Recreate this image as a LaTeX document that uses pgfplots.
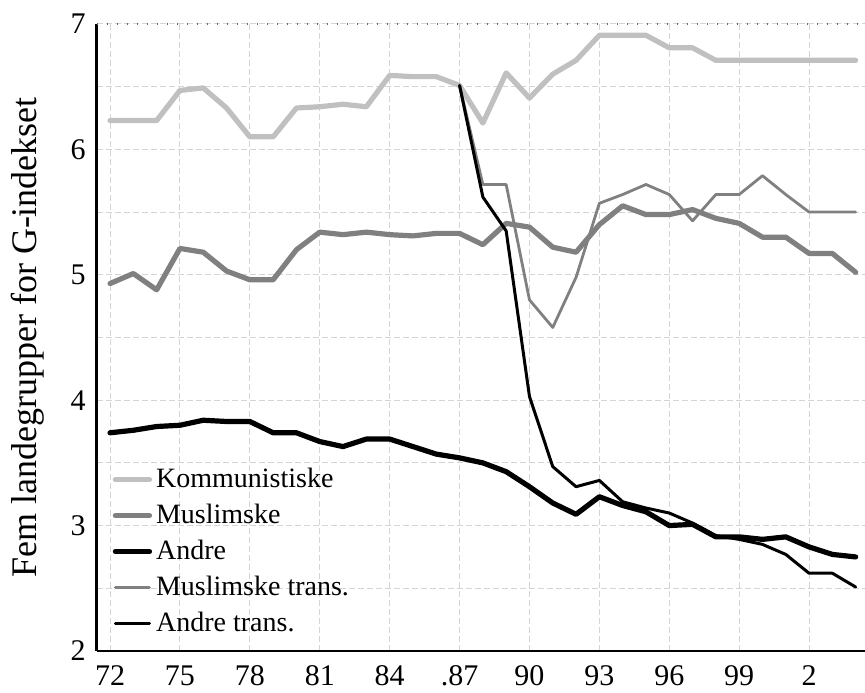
\documentclass[border=0pt]{standalone}
\usepackage{fontspec}
\setmainfont{Liberation Serif}
\usepackage{pgfplots}
\pgfplotsset{compat=1.18}
\definecolor{komm}{HTML}{C0C0C0}
\definecolor{musl}{HTML}{808080}
\definecolor{gridc}{HTML}{D4D4D4}
\begin{document}
\begin{tikzpicture}
\begin{axis}[
  name=ax,
  scale only axis,
  width=384pt, height=313.5pt,
  xmin=71.44, xmax=104.4,
  ymin=2, ymax=7,
  axis x line*=bottom, axis y line*=left,
  x axis line style={line width=1pt, -},
  y axis line style={line width=1.5pt, -},
  xtick={72,75,78,81,84,87,90,93,96,99,102},
  xticklabels={72,75,78,81,84,.87,90,93,96,99,2},
  ytick={2,3,4,5,6,7},
  minor y tick num=1,
  major tick length=0pt, minor tick length=0pt,
  xmajorgrids, ymajorgrids, yminorgrids,
  grid style={gridc, line width=0.5pt, dash pattern=on 3pt off 1.5pt},
  minor grid style={gridc, line width=0.5pt, dash pattern=on 3pt off 1.5pt},
  /pgf/number format/assume math mode=true,
  tick label style={font=\fontsize{15}{17}\selectfont},
  xticklabel style={inner sep=0pt, anchor=north, yshift=-7pt},
  yticklabel style={inner sep=0pt, anchor=east, xshift=-5.5pt},
  ylabel={Fem landegrupper for G-indekset},
  every axis y label/.style={at={(axis description cs:0,0.5)}, xshift=-30pt, anchor=base, rotate=90, inner sep=0pt, font=\fontsize{18}{20}\selectfont},
  legend style={draw=none, fill=none, at={(axis description cs:0.02,0.298)}, anchor=north west, font=\fontsize{14}{16}\selectfont, row sep=2.75pt, inner sep=0pt},
  legend cell align=left,
  every axis plot/.append style={line cap=round, line join=round},
]
\addplot[komm, line width=2.6pt] coordinates {
(72,6.23) (73,6.23) (74,6.23) (75,6.47) (76,6.49) (77,6.33) (78,6.10) (79,6.10)
(80,6.33) (81,6.34) (82,6.36) (83,6.34) (84,6.59) (85,6.58) (86,6.58) (87,6.51)
(88,6.21) (89,6.61) (90,6.41) (91,6.60) (92,6.71) (93,6.91) (94,6.91) (95,6.91)
(96,6.81) (97,6.81) (98,6.71) (99,6.71) (100,6.71) (101,6.71) (102,6.71) (103,6.71) (104,6.71)};
\addlegendentry{Kommunistiske}
\addplot[musl, line width=2.6pt] coordinates {
(72,4.93) (73,5.01) (74,4.88) (75,5.21) (76,5.18) (77,5.03) (78,4.96) (79,4.96)
(80,5.20) (81,5.34) (82,5.32) (83,5.34) (84,5.32) (85,5.31) (86,5.33) (87,5.33)
(88,5.24) (89,5.41) (90,5.38) (91,5.22) (92,5.18) (93,5.40) (94,5.55) (95,5.48)
(96,5.48) (97,5.52) (98,5.45) (99,5.41) (100,5.30) (101,5.30) (102,5.17) (103,5.17) (104,5.02)};
\addlegendentry{Muslimske}
\addplot[black, line width=2.6pt] coordinates {
(72,3.74) (73,3.76) (74,3.79) (75,3.80) (76,3.84) (77,3.83) (78,3.83) (79,3.74)
(80,3.74) (81,3.67) (82,3.63) (83,3.69) (84,3.69) (85,3.63) (86,3.57) (87,3.54)
(88,3.50) (89,3.43) (90,3.31) (91,3.18) (92,3.09) (93,3.23) (94,3.16) (95,3.11)
(96,3.00) (97,3.01) (98,2.91) (99,2.91) (100,2.89) (101,2.91) (102,2.83) (103,2.77) (104,2.75)};
\addlegendentry{Andre}
\addplot[musl, line width=1.4pt] coordinates {
(87,6.51) (88,5.72) (89,5.72) (90,4.80) (91,4.58) (92,4.98) (93,5.57) (94,5.64)
(95,5.72) (96,5.64) (97,5.43) (98,5.64) (99,5.64) (100,5.79) (101,5.64) (102,5.50) (103,5.50) (104,5.50)};
\addlegendentry{Muslimske trans.}
\addplot[black, line width=1.5pt] coordinates {
(87,6.51) (88,5.62) (89,5.35) (90,4.03) (91,3.47) (92,3.31) (93,3.36) (94,3.19)
(95,3.14) (96,3.10) (97,3.02) (98,2.92) (99,2.89) (100,2.85) (101,2.77) (102,2.62) (103,2.62) (104,2.51)};
\addlegendentry{Andre trans.}
\draw[black!60, line width=1pt, dash pattern=on 0.6pt off 4.4pt] (rel axis cs:0,1) -- (rel axis cs:1,1);
\end{axis}
\pgfresetboundingbox
\path ([shift={(-48.5pt,-21pt)}]ax.south west) rectangle ([shift={(0pt,12pt)}]ax.north east);
\end{tikzpicture}
\end{document}
